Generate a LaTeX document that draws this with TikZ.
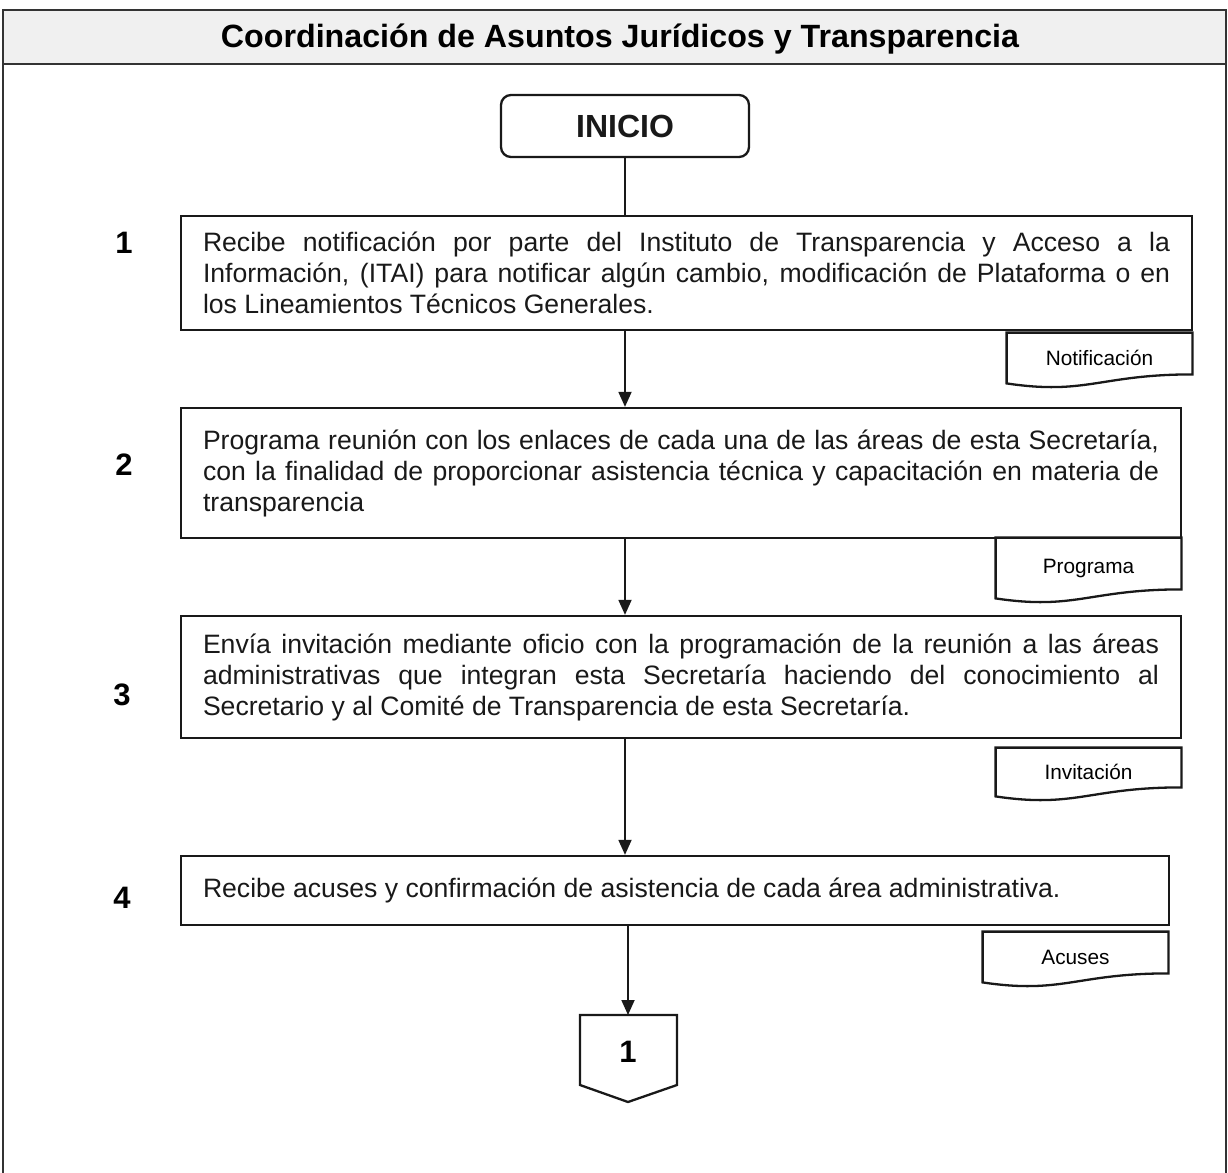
\documentclass[tikz,border=0pt]{standalone}
\usepackage{fontspec}
\setmainfont{Liberation Sans}
\usetikzlibrary{arrows.meta,calc}
\newcommand\bodyfont{\fontsize{13.3pt}{15.5pt}\selectfont}
\newcommand\docwave[1]{%
  \draw[boxline] (#1.south west) -- (#1.north west) -- (#1.north east) -- ([yshift=4.5pt]#1.south east)
    .. controls ([xshift=-46pt,yshift=4.5pt]#1.south east) and ([xshift=40pt,yshift=-6pt]#1.south west) .. (#1.south west) -- cycle;}
\tikzset{
  frameline/.style={line width=0.8pt, black!80},
  boxline/.style={line width=1.15pt, black!90},
  stepbox/.style={draw, boxline, rectangle, align=justify, inner xsep=11pt, font=\bodyfont},
  doclabel/.style={rectangle, inner sep=0pt, minimum width=92.5pt, font=\fontsize{10.4pt}{12pt}\selectfont},
  numlabel/.style={font=\fontsize{15.5pt}{17pt}\selectfont\bfseries},
  flow/.style={line width=0.9pt, black!90, -{Triangle[length=7.5pt,width=6.5pt]}},
  plainflow/.style={line width=0.9pt, black!90},
}
\begin{document}
\hyphenpenalty=10000
\begin{tikzpicture}[x=0.5pt,y=-0.5pt]
\useasboundingbox (0,0) rectangle (1228,1173);
% frame and header
\fill[gray!12] (3,10) rectangle (1226,64);
\draw[frameline] (3,1173) -- (3,10) -- (1226,10) -- (1226,1173);
\draw[frameline] (3,64) -- (1226,64);
\node (title) at (620,39) {\fontsize{16.1pt}{18pt}\selectfont\bfseries Coordinación de Asuntos Jurídicos y Transparencia};

% start
\node (inicio) [draw, boxline, rounded corners=5pt, minimum width=124pt, minimum height=31pt, font=\fontsize{16pt}{18pt}\selectfont\bfseries] at (625,126) {INICIO};

% step numbers
\node[numlabel] (n1) at (124,243) {1};
\node[numlabel] (n2) at (124,465) {2};
\node[numlabel] (n3) at (122,695) {3};
\node[numlabel] (n4) at (122,898) {4};

% steps
\node[stepbox, text width=483.5pt, minimum height=57pt] (box1) at (686.5,273)
 {Recibe notificación por parte del Instituto de Transparencia y Acceso a la\linebreak
  Información, (ITAI) para notificar algún cambio, modificación de Plataforma o en\linebreak
  los Lineamientos Técnicos Generales.};
\node[stepbox, text width=478pt, minimum height=65pt] (box2) at (681,473)
 {Programa reunión con los enlaces de cada una de las áreas de esta Secretaría,\linebreak
  con la finalidad de proporcionar asistencia técnica y capacitación en materia de\linebreak
  transparencia};
\node[stepbox, text width=478pt, minimum height=61pt] (box3) at (681,677)
 {Envía invitación mediante oficio con la programación de la reunión a las áreas\linebreak
  administrativas que integran esta Secretaría haciendo del conocimiento al\linebreak
  Secretario y al Comité de Transparencia de esta Secretaría.};
\node[stepbox, text width=472pt, minimum height=34.5pt] (box4) at (675,890.5)
 {Recibe acuses y confirmación de asistencia de cada área administrativa.};

% documents
\node[doclabel, minimum height=25pt] (d1) at (1099.5,358) {Notificación};
\docwave{d1}
\node[doclabel, minimum height=30pt] (d2) at (1088.5,568) {Programa};
\docwave{d2}
\node[doclabel, minimum height=24pt] (d3) at (1088.5,772) {Invitación};
\docwave{d3}
\node[doclabel, minimum height=25pt] (d4) at (1075.5,957) {Acuses};
\docwave{d4}

% off-page connector
\coordinate (offtop) at (628,1015);
\draw[boxline] (580,1015) -- (677,1015) -- (677,1085) -- (628,1102) -- (580,1085) -- cycle;
\node[numlabel] (off) at (628,1052) {1};

% connectors
\draw[plainflow] (inicio.south) -- (box1.north -| inicio.south);
\draw[flow] (box1.south -| inicio.south) -- (box2.north -| inicio.south);
\draw[flow] (box2.south -| inicio.south) -- (box3.north -| inicio.south);
\draw[flow] (box3.south -| inicio.south) -- (box4.north -| inicio.south);
\draw[flow] (offtop |- box4.south) -- (offtop);
\end{tikzpicture}
\end{document}
